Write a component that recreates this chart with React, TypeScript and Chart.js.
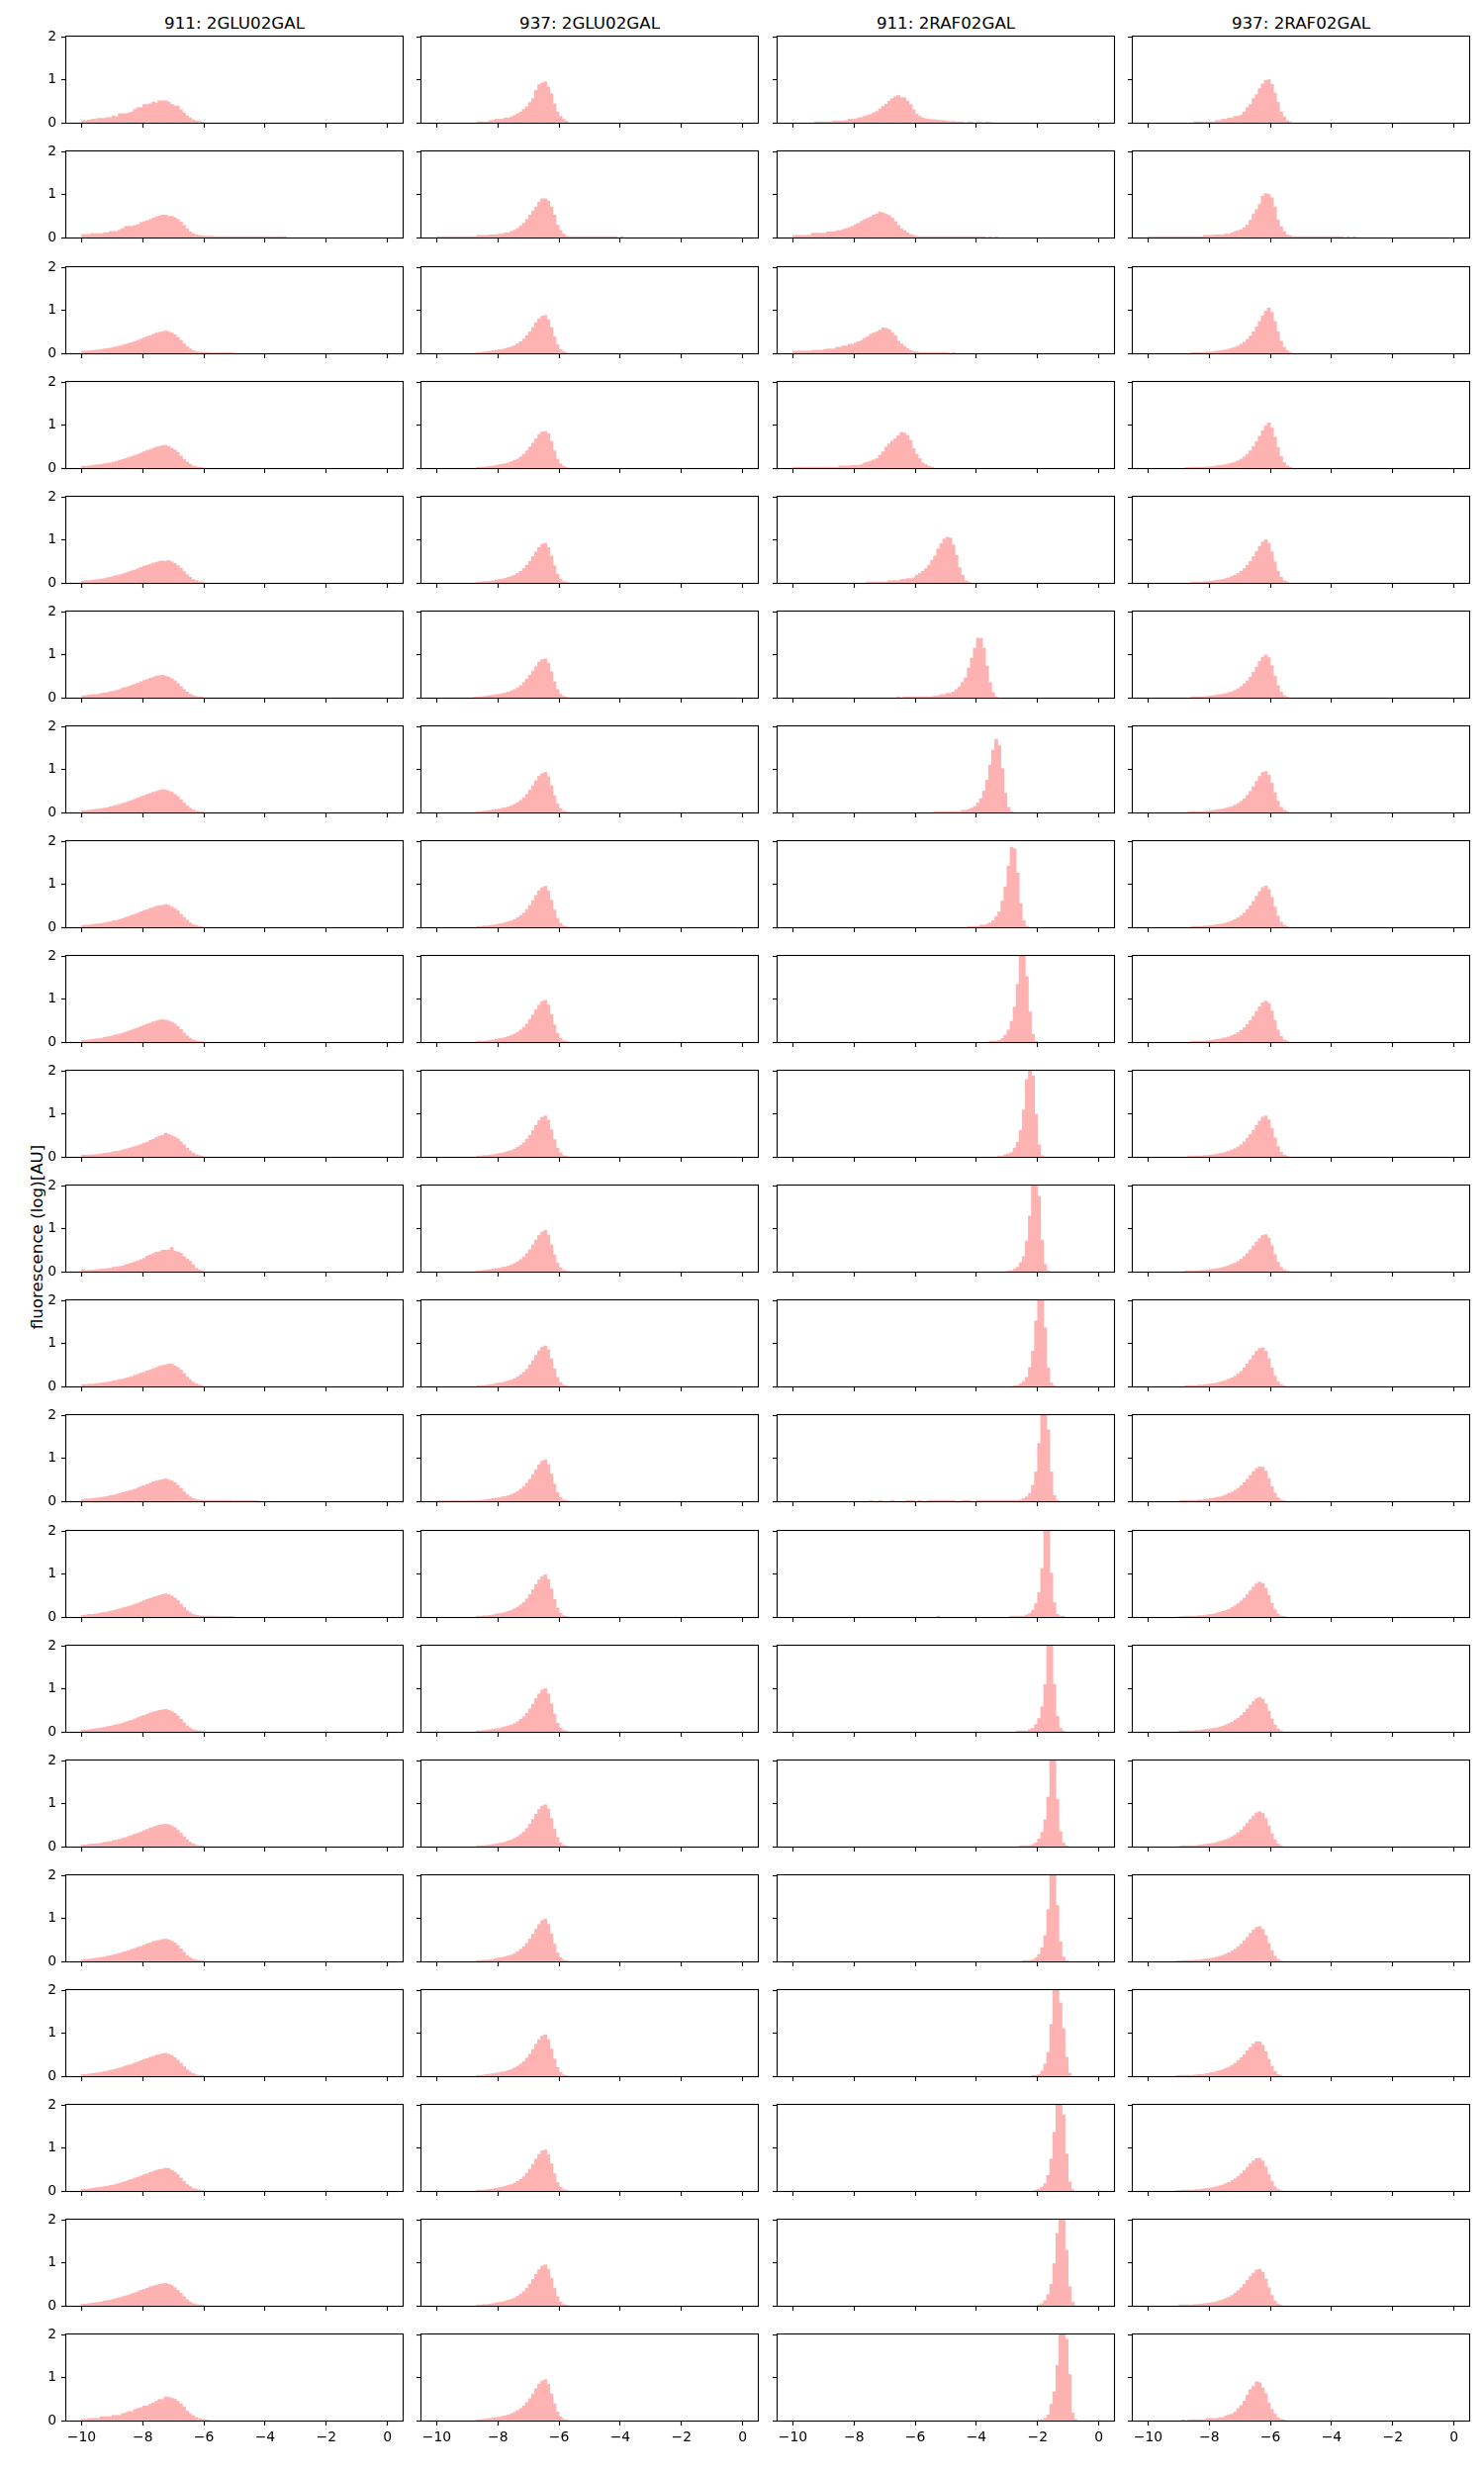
import React, { useEffect, useRef } from 'react';
import { Chart, registerables } from 'chart.js';

Chart.register(...registerables);

// ---------- text ----------
const columnTitles = ['911: 2GLU02GAL', '937: 2GLU02GAL', '911: 2RAF02GAL', '937: 2RAF02GAL'];
const yAxisTitle = 'fluorescence (log)[AU]';
const xTicks = [-10, -8, -6, -4, -2, 0];
const yTicks = [0, 1, 2];
const xRange = [-10.5, 0.5];
const yRange = [0, 2];

// histogram bins: bin k spans [binOrigin + k*binWidth, binOrigin + (k+1)*binWidth]
const binOrigin = -10;
const binWidth = 0.1;

// ---------- 911: 2GLU02GAL ----------
const glu911Start = [0, 0, 0, 0, 0, 0, 0, 0, 0, 0, 0, 0, 0, 0, 0, 0, 0, 0, 0, 0, 0];
const glu911Heights = [
  [.05,.05,.06,.08,.08,.1,.1,.1,.12,.12,.16,.14,.21,.21,.21,.23,.25,.31,.35,.35,.42,.42,.44,.48,.46,.51,.51,.51,.48,.43,.39,.39,.3,.23,.16,.11,.07,.04,.03,.01],
  [.07,.07,.07,.09,.09,.09,.09,.11,.11,.14,.14,.14,.17,.21,.26,.26,.26,.28,.3,.35,.37,.39,.42,.45,.48,.5,.52,.52,.49,.49,.46,.42,.36,.28,.2,.13,.09,.06,.05,.04,.03,.03,.03,.02,.02,.02,.02,.02,.02,.02,.02,.02,.02,.02,.02,.02,.02,.02,.02,.02,.02,.02,.02,.02,.02,.02,.02],
  [.05,.05,.06,.06,.07,.08,.09,.1,.11,.12,.14,.15,.17,.19,.21,.23,.25,.27,.3,.33,.36,.39,.41,.44,.47,.49,.5,.52,.5,.47,.43,.37,.3,.22,.15,.1,.06,.04,.03,.02,.02,.02,.01,.01,.01,.01,.01,.01,.01,.01],
  [.04,.04,.05,.06,.07,.08,.09,.1,.11,.12,.14,.16,.18,.2,.22,.25,.27,.3,.32,.35,.38,.41,.43,.46,.49,.5,.52,.53,.5,.46,.42,.36,.28,.2,.14,.09,.05,.03,.02,.01],
  [.04,.05,.05,.06,.07,.08,.09,.1,.12,.13,.15,.17,.19,.21,.23,.26,.28,.3,.33,.36,.39,.41,.43,.46,.48,.5,.51,.5,.52,.49,.45,.4,.34,.26,.19,.13,.08,.05,.03,.02],
  [.04,.05,.06,.07,.07,.08,.1,.11,.12,.14,.15,.17,.19,.22,.24,.26,.29,.31,.34,.37,.4,.42,.45,.47,.5,.51,.52,.5,.48,.44,.39,.33,.26,.19,.13,.08,.05,.03,.02,.01],
  [.04,.04,.05,.06,.07,.08,.09,.1,.11,.13,.15,.17,.19,.21,.23,.26,.28,.31,.34,.37,.39,.42,.44,.47,.49,.51,.53,.52,.5,.47,.42,.37,.3,.22,.15,.1,.06,.03,.02,.01],
  [.04,.05,.05,.06,.07,.08,.09,.1,.12,.13,.15,.16,.18,.2,.23,.25,.28,.3,.33,.36,.39,.41,.44,.46,.49,.5,.51,.53,.51,.47,.43,.38,.3,.23,.16,.1,.06,.04,.02,.01],
  [.04,.04,.05,.06,.07,.08,.09,.11,.12,.13,.15,.17,.19,.21,.23,.26,.28,.31,.33,.36,.39,.42,.44,.47,.49,.51,.52,.51,.49,.46,.42,.36,.29,.21,.14,.09,.05,.03,.02,.01],
  [.04,.04,.04,.05,.05,.06,.07,.08,.09,.1,.12,.13,.14,.16,.18,.2,.22,.24,.26,.29,.32,.34,.38,.41,.45,.48,.5,.55,.52,.49,.46,.42,.35,.28,.2,.14,.09,.05,.03,.01],
  [.05,.03,.03,.03,.04,.05,.06,.06,.07,.08,.1,.11,.12,.13,.16,.18,.2,.23,.25,.28,.31,.36,.39,.42,.45,.46,.5,.5,.5,.56,.48,.46,.43,.35,.29,.24,.16,.08,.04,.02],
  [.04,.04,.05,.05,.06,.07,.08,.09,.1,.11,.13,.14,.16,.17,.19,.21,.23,.26,.28,.31,.33,.36,.38,.41,.44,.47,.49,.5,.52,.52,.48,.44,.38,.3,.22,.15,.1,.06,.03,.02],
  [.04,.05,.05,.06,.07,.08,.09,.1,.11,.13,.14,.16,.18,.2,.22,.24,.26,.28,.31,.34,.36,.39,.42,.45,.47,.49,.5,.52,.5,.47,.43,.37,.3,.22,.15,.1,.06,.04,.03,.02,.02,.02,.02,.02,.02,.02,.02,.02,.02,.01,.01,.01,.01,.01,.01,.01,.01,.01],
  [.04,.05,.06,.06,.07,.08,.1,.11,.12,.14,.15,.17,.19,.21,.23,.25,.27,.3,.32,.35,.38,.41,.43,.46,.48,.5,.52,.54,.52,.49,.44,.38,.3,.22,.15,.1,.06,.04,.03,.02,.02,.02,.02,.02,.01,.01,.01,.01,.01,.01],
  [.04,.04,.05,.06,.07,.08,.09,.1,.12,.13,.15,.17,.18,.2,.23,.25,.27,.3,.33,.36,.38,.41,.44,.46,.48,.5,.51,.52,.5,.47,.43,.37,.29,.21,.14,.09,.05,.03,.02,.01],
  [.04,.04,.05,.06,.06,.07,.08,.1,.11,.12,.14,.15,.17,.19,.21,.24,.26,.29,.31,.34,.37,.4,.43,.45,.48,.5,.51,.52,.51,.48,.44,.38,.31,.23,.16,.1,.06,.03,.02,.01],
  [.04,.05,.05,.06,.07,.08,.09,.1,.12,.13,.15,.17,.19,.21,.23,.25,.28,.3,.33,.35,.38,.41,.43,.46,.48,.49,.51,.52,.5,.47,.43,.37,.29,.21,.14,.09,.05,.03,.02,.01],
  [.04,.04,.05,.06,.07,.08,.09,.11,.12,.14,.15,.17,.19,.21,.24,.26,.28,.31,.33,.36,.39,.41,.44,.46,.49,.5,.52,.53,.51,.48,.43,.37,.3,.22,.15,.1,.06,.03,.02,.01],
  [.04,.04,.05,.06,.07,.08,.09,.1,.11,.13,.14,.16,.18,.2,.22,.25,.27,.3,.32,.35,.38,.4,.43,.45,.48,.5,.51,.53,.52,.48,.44,.38,.3,.22,.15,.1,.06,.04,.02,.01],
  [.04,.04,.05,.06,.07,.08,.09,.11,.12,.13,.15,.17,.19,.21,.23,.25,.28,.3,.33,.36,.38,.41,.44,.46,.48,.5,.51,.52,.5,.47,.42,.36,.29,.21,.14,.09,.05,.03,.02,.01],
  [.03,.03,.05,.05,.05,.05,.09,.09,.09,.09,.12,.12,.12,.16,.18,.21,.21,.26,.28,.3,.34,.34,.38,.41,.45,.49,.49,.55,.54,.52,.5,.45,.39,.32,.22,.16,.11,.07,.04,.03,.02,.01],
];

// ---------- 937: 2GLU02GAL ----------
const glu937Start = [13, 0, 13, 13, 13, 12, 13, 13, 13, 13, 13, 13, 0, 13, 13, 13, 13, 13, 13, 13, 13];
const glu937Heights = [
  [.02,.02,.02,.02,.05,.05,.08,.08,.08,.11,.11,.14,.17,.21,.25,.31,.37,.47,.56,.75,.88,.92,.95,.83,.67,.44,.25,.15,.08,.03],
  [.02,.02,.02,.02,.02,.02,.02,.02,.02,.02,.02,.02,.02,.05,.05,.05,.05,.06,.06,.06,.08,.08,.11,.11,.14,.17,.21,.27,.33,.42,.52,.62,.71,.82,.9,.9,.85,.71,.52,.29,.16,.08,.03,.02,.02,.02,.02,.02,.02,.02,.02,.02,.02,.02,.02,.02,.02,.02,.02,0,.02],
  [.02,.02,.03,.04,.05,.06,.07,.08,.09,.11,.13,.15,.18,.22,.27,.33,.41,.5,.6,.71,.8,.86,.88,.78,.6,.38,.2,.09,.04,.01],
  [.02,.02,.02,.03,.04,.05,.06,.08,.09,.1,.12,.15,.18,.21,.26,.32,.4,.49,.58,.68,.78,.84,.85,.8,.62,.4,.21,.1,.04,.01],
  [.02,.02,.03,.03,.04,.05,.07,.08,.09,.11,.13,.15,.18,.22,.27,.33,.41,.5,.61,.72,.82,.9,.92,.82,.62,.4,.2,.09,.03,.01],
  [.01,.02,.02,.03,.04,.05,.06,.07,.08,.1,.11,.13,.16,.19,.23,.28,.35,.43,.52,.62,.72,.83,.88,.9,.8,.6,.37,.19,.08,.03,.01],
  [.02,.02,.03,.04,.05,.06,.07,.08,.1,.11,.13,.16,.19,.23,.28,.34,.42,.52,.62,.74,.84,.9,.93,.83,.62,.39,.2,.09,.03,.01],
  [.02,.02,.03,.03,.04,.05,.06,.08,.09,.11,.13,.15,.18,.22,.27,.33,.41,.51,.62,.74,.85,.92,.95,.84,.63,.4,.21,.09,.03,.01],
  [.02,.02,.02,.03,.04,.05,.07,.08,.09,.11,.13,.16,.19,.23,.28,.34,.42,.52,.63,.75,.86,.94,.97,.86,.64,.4,.2,.09,.03,.01],
  [.02,.02,.03,.03,.04,.05,.06,.08,.09,.11,.13,.15,.18,.22,.27,.33,.41,.5,.61,.73,.84,.92,.95,.85,.63,.4,.2,.09,.03,.01],
  [.02,.02,.03,.04,.05,.06,.07,.08,.1,.11,.13,.16,.19,.23,.28,.34,.42,.51,.62,.73,.84,.92,.96,.84,.62,.39,.2,.09,.03,.01],
  [.02,.02,.02,.03,.04,.05,.07,.08,.09,.11,.13,.15,.18,.22,.27,.33,.4,.5,.6,.72,.83,.91,.94,.85,.64,.41,.21,.09,.03,.01],
  [.01,.01,.01,.01,.01,.01,.01,.01,.01,.01,.01,.01,.01,.02,.02,.03,.04,.05,.06,.07,.08,.1,.11,.13,.16,.19,.23,.28,.34,.42,.51,.62,.73,.85,.93,.96,.85,.63,.4,.2,.09,.03,.01],
  [.02,.02,.03,.03,.04,.05,.07,.08,.09,.11,.13,.16,.19,.23,.28,.34,.42,.52,.63,.75,.86,.94,.98,.87,.65,.41,.21,.09,.03,.01],
  [.02,.02,.03,.04,.05,.06,.07,.08,.1,.12,.14,.16,.19,.23,.29,.35,.43,.53,.64,.77,.88,.97,1.0,.88,.65,.41,.2,.09,.03,.01],
  [.02,.02,.02,.03,.04,.05,.06,.08,.09,.11,.13,.16,.19,.23,.28,.34,.42,.52,.63,.75,.86,.94,.97,.87,.65,.41,.21,.09,.03,.01],
  [.02,.02,.03,.03,.04,.05,.07,.08,.09,.11,.13,.15,.18,.22,.28,.34,.42,.52,.63,.75,.86,.95,.98,.86,.64,.4,.2,.09,.03,.01],
  [.02,.02,.03,.04,.05,.06,.07,.08,.1,.11,.13,.16,.19,.23,.28,.34,.42,.51,.62,.74,.85,.93,.96,.85,.63,.4,.2,.09,.03,.01],
  [.02,.02,.02,.03,.04,.05,.06,.08,.09,.11,.13,.15,.18,.22,.27,.33,.41,.51,.62,.74,.85,.93,.95,.84,.63,.4,.2,.09,.03,.01],
  [.02,.02,.03,.03,.04,.05,.07,.08,.09,.11,.13,.15,.18,.22,.27,.33,.41,.5,.61,.73,.84,.92,.95,.85,.64,.41,.21,.09,.03,.01],
  [.02,.02,.03,.04,.05,.06,.07,.08,.1,.11,.13,.16,.19,.23,.28,.34,.42,.51,.62,.74,.85,.92,.95,.84,.62,.39,.2,.09,.03,.01],
];

// ---------- 911: 2RAF02GAL ----------
const raf911Start = [7, 0, 0, 0, 24, 34, 46, 57, 64, 67, 70, 72, 25, 47, 73, 74, 75, 78, 79, 80, 80];
const raf911Heights = [
  [.02,.02,.02,.02,.02,.02,.04,.04,.04,.04,.05,.08,.08,.09,.11,.12,.15,.17,.19,.23,.26,.32,.38,.43,.5,.56,.6,.63,.58,.58,.5,.42,.3,.2,.15,.11,.09,.08,.07,.07,.06,.05,.05,.04,.03,.03,.02,.02,.02,0,.02,.02,0,.02,.02,0,.02,.01],
  [.05,.05,.05,.05,.05,.05,.1,.1,.1,.1,.1,.13,.13,.13,.16,.16,.19,.21,.23,.26,.3,.33,.38,.42,.45,.48,.52,.55,.59,.57,.54,.51,.45,.37,.28,.2,.16,.11,.07,.05,.03,.02,.02,.02,.02,.02,.02,.02,.02,.02,.02,.02,.02,.02,.02,.02,.02,.02,.02,.02,.02,.02,.02,0,.02,0,.02],
  [.05,.05,.05,.05,.05,.05,.07,.07,.07,.07,.09,.1,.1,.1,.14,.14,.17,.17,.21,.21,.24,.27,.3,.35,.39,.44,.47,.5,.54,.59,.58,.55,.48,.41,.28,.22,.16,.11,.06,.04,.04,.02,.02,.02,.02,.02,.02,.02,.02,.02,.02,0,.02],
  [.02,.02,.02,.02,.02,.02,.02,.02,.02,.02,.02,.02,.02,.02,.02,.05,.05,.05,.05,.06,.06,.06,.08,.12,.14,.16,.19,.22,.3,.38,.49,.56,.63,.68,.75,.83,.81,.76,.64,.45,.32,.22,.12,.08,.04,.02],
  [.02,.02,.02,.02,.02,.02,.02,.05,.05,.05,.05,.08,.08,.1,.1,.12,.18,.22,.27,.33,.41,.52,.62,.79,.91,1.02,1.06,1.04,.88,.64,.35,.18,.05,.02],
  [.02,0,.02,.02,.02,.02,.02,.02,.02,.02,.02,.02,.04,.04,.07,.07,.1,.1,.13,.19,.25,.35,.46,.69,.92,1.15,1.38,1.38,1.15,.73,.35,.12,.02],
  [.02,.02,.02,.02,.02,.02,.02,.02,.02,.05,.05,.07,.1,.14,.22,.32,.5,.75,1.1,1.45,1.7,1.55,1.02,.45,.12,.02],
  [.02,.02,.02,.02,.05,.05,.07,.1,.15,.25,.36,.61,.94,1.42,1.86,1.82,1.26,.55,.15,.02],
  [.02,.02,.02,.04,.08,.16,.28,.48,.81,1.34,2.1,2.05,1.52,.7,.18,.02],
  [.02,.02,.05,.07,.1,.2,.34,.62,1.09,1.8,2.15,1.88,.99,.28,.03],
  [.02,.02,.06,.1,.21,.35,.71,1.29,2.2,2.1,1.75,.73,.17,.02],
  [.02,.02,.06,.12,.21,.44,.82,1.52,2.2,2.3,1.36,.43,.08,.01],
  [.02,0,0,.02,0,0,0,.02,0,0,0,0,.02,.02,.02,0,.02,0,0,.02,.02,.02,.02,.02,.02,.02,.02,.02,0,0,.02,.02,.02,0,0,.02,.02,.02,.02,.02,.02,.02,.02,.02,.02,.02,.02,.02,.02,.03,.06,.1,.18,.37,.68,1.34,2.2,2.2,1.66,.68,.13,.02],
  [.02,0,0,0,0,0,0,0,0,0,0,0,0,0,0,0,0,0,0,0,0,0,0,0,.02,.02,.02,.02,.02,.05,.08,.16,.31,.57,1.13,2.1,2.3,1.02,.33,.06,.02,.02],
  [.02,.02,.02,.02,.05,.08,.17,.31,.58,1.1,2.2,2.2,1.1,.36,.08,.02],
  [.02,.02,.02,.02,.05,.09,.18,.33,.62,1.15,2.2,2.1,1.1,.35,.08,.02],
  [.02,.02,.02,.04,.08,.16,.32,.6,1.2,2.1,2.2,1.3,.45,.1,.02],
  [.02,.02,.04,.12,.28,.55,1.2,2.0,2.2,1.7,1.1,.44,.07],
  [.02,.04,.09,.17,.36,.74,1.36,2.2,2.1,1.77,.86,.21,.03],
  [.02,.05,.12,.26,.5,.98,1.68,2.2,2.2,1.29,.44,.08],
  [.02,.02,.05,.13,.38,.67,1.28,2.2,2.2,1.89,1.07,.18,.03],
];

// ---------- 937: 2RAF02GAL ----------
const raf937Start = [15, 0, 14, 12, 14, 14, 13, 14, 14, 13, 12, 12, 10, 10, 10, 10, 9, 9, 9, 10, 11];
const raf937Heights = [
  [.02,.02,.02,.02,.02,.02,.02,.05,.05,.08,.08,.11,.11,.15,.15,.18,.25,.35,.42,.56,.65,.79,.9,.98,1.0,.89,.69,.47,.25,.14,.05,.02],
  [.02,.02,.02,.02,.02,.02,.02,.02,.02,.02,.02,.02,.02,.02,.02,.02,.02,.02,.05,.05,.05,.05,.06,.06,.06,.08,.08,.11,.14,.16,.18,.23,.29,.4,.54,.65,.77,.96,1.02,1.0,.92,.71,.41,.25,.14,.06,.04,.02,.02,.02,.02,.02,.02,.02,.02,.02,.02,.02,.02,.02,.02,.02,.02,.02,0,.02,0,.02],
  [.02,.02,.02,.02,.02,.03,.03,.04,.05,.06,.07,.08,.1,.12,.14,.17,.21,.26,.32,.4,.5,.61,.74,.87,.98,1.05,.95,.74,.5,.28,.14,.06,.02],
  [.01,.01,.02,.02,.02,.02,.02,.03,.03,.04,.05,.06,.07,.08,.1,.12,.14,.17,.21,.26,.32,.4,.5,.61,.74,.87,.98,1.05,.93,.72,.48,.27,.13,.05,.02],
  [.02,.02,.02,.02,.03,.03,.04,.05,.06,.07,.08,.1,.12,.15,.18,.22,.27,.33,.41,.5,.61,.73,.85,.95,1.0,.92,.72,.49,.27,.13,.05,.02],
  [.02,.02,.02,.02,.02,.03,.04,.05,.06,.07,.08,.1,.12,.14,.17,.21,.26,.32,.39,.48,.59,.71,.84,.94,.99,.93,.74,.5,.28,.13,.05,.02],
  [.01,.02,.02,.02,.02,.02,.03,.04,.05,.06,.07,.08,.1,.12,.14,.17,.21,.26,.32,.4,.49,.6,.72,.84,.93,.95,.87,.68,.46,.26,.12,.05,.02],
  [.02,.02,.02,.02,.03,.03,.04,.05,.06,.07,.08,.1,.12,.15,.18,.22,.27,.33,.41,.5,.6,.72,.83,.92,.96,.88,.69,.47,.26,.12,.05,.02],
  [.02,.02,.02,.02,.02,.03,.04,.05,.06,.07,.09,.1,.12,.15,.18,.22,.27,.33,.41,.5,.6,.71,.82,.91,.95,.9,.72,.5,.28,.13,.05,.02],
  [.02,.02,.02,.02,.02,.03,.03,.04,.05,.06,.08,.09,.11,.13,.16,.19,.23,.28,.35,.43,.52,.62,.73,.83,.92,.95,.86,.66,.44,.24,.11,.04,.01],
  [.02,.02,.02,.02,.02,.03,.03,.04,.05,.06,.07,.08,.1,.12,.14,.17,.2,.24,.29,.35,.42,.51,.6,.69,.77,.84,.86,.78,.6,.4,.22,.1,.04,.01],
  [.02,.02,.02,.02,.03,.03,.04,.05,.06,.07,.08,.1,.12,.14,.17,.2,.24,.29,.35,.43,.52,.62,.72,.82,.88,.9,.82,.64,.43,.24,.11,.04,.01],
  [.01,.02,.02,.02,.02,.02,.03,.03,.04,.05,.06,.07,.09,.1,.12,.15,.18,.21,.25,.3,.36,.43,.51,.6,.69,.76,.8,.79,.7,.53,.34,.19,.08,.03,.01],
  [.01,.01,.02,.02,.02,.02,.03,.03,.04,.05,.06,.07,.09,.11,.13,.15,.18,.22,.26,.31,.37,.44,.52,.61,.7,.77,.81,.78,.67,.5,.32,.17,.07,.02,.01],
  [.02,.02,.02,.02,.02,.03,.03,.04,.05,.06,.07,.08,.09,.11,.13,.16,.19,.22,.27,.32,.38,.45,.53,.62,.7,.77,.8,.76,.65,.48,.3,.16,.07,.02],
  [.01,.02,.02,.02,.02,.02,.03,.04,.05,.06,.07,.08,.1,.12,.14,.16,.19,.23,.27,.32,.38,.46,.54,.63,.71,.78,.81,.77,.65,.48,.3,.16,.06,.02],
  [.01,.01,.02,.02,.02,.02,.03,.03,.04,.05,.06,.07,.08,.1,.12,.14,.17,.2,.24,.28,.34,.4,.48,.56,.65,.73,.79,.81,.74,.6,.42,.25,.12,.05,.01],
  [.01,.02,.02,.02,.02,.02,.03,.04,.04,.05,.06,.08,.09,.11,.13,.15,.18,.21,.25,.3,.36,.43,.5,.59,.67,.75,.8,.8,.72,.57,.39,.23,.11,.04,.01],
  [.01,.01,.02,.02,.02,.02,.03,.03,.04,.05,.06,.07,.08,.1,.12,.14,.17,.2,.24,.28,.34,.4,.47,.55,.63,.7,.75,.76,.7,.56,.38,.22,.1,.04,.01],
  [.02,.02,.02,.02,.02,.03,.03,.04,.05,.06,.07,.08,.1,.12,.14,.17,.2,.24,.29,.35,.42,.5,.59,.68,.76,.83,.85,.78,.62,.42,.24,.11,.04,.01],
  [.02,0,.02,.02,.02,.02,.02,.02,.05,.05,.05,.05,.07,.07,.11,.13,.15,.2,.28,.35,.45,.59,.72,.8,.9,.88,.76,.63,.41,.26,.15,.07,.03,.01],
];

const columnStarts = [glu911Start, glu937Start, raf911Start, raf937Start];
const columnHeights = [glu911Heights, glu937Heights, raf911Heights, raf937Heights];

// ---------- layout / style ----------
const FONT = "'DejaVu Sans', 'Liberation Sans', sans-serif";
const BAR_COLOR = '#ffb2b2';
const COL_LEFT = [67, 426, 786, 1145];
const PLOT_W = 340;
const PLOT_H = 87;
const ROW0_TOP = 37.3;
const ROW_PITCH = 116.1;
const N_ROWS = 21;
const PAD_L = 45;
const PAD_R = 8;
const PAD_T = 12;
const PAD_B = 32;

const fmtTick = (v: number) => (v < 0 ? '\u2212' + Math.abs(v) : String(v));

const framePlugin = {
  id: 'axesFrame',
  afterDatasetsDraw(chart: any) {
    const { ctx, chartArea: a } = chart;
    ctx.save();
    ctx.strokeStyle = '#000';
    ctx.lineWidth = 1.1;
    ctx.strokeRect(a.left - 0.5, a.top - 0.5, a.right - a.left + 1, a.bottom - a.top + 1);
    ctx.restore();
  },
};

function Panel({ col, row }: { col: number; row: number }) {
  const ref = useRef<HTMLCanvasElement | null>(null);
  const plotTop = Math.round(ROW0_TOP + row * ROW_PITCH);
  const left = COL_LEFT[col] - PAD_L;
  const top = plotTop - PAD_T;
  const w = PLOT_W + PAD_L + PAD_R;
  const h = PLOT_H + PAD_T + PAD_B;

  useEffect(() => {
    if (!ref.current) return;
    const start = columnStarts[col][row];
    const heights = columnHeights[col][row];
    const points: { x: number; y: number }[] = [];
    heights.forEach((v, i) => {
      if (v > 0) points.push({ x: binOrigin + (start + i + 0.5) * binWidth, y: v });
    });
    const showX = row === N_ROWS - 1;
    const showY = col === 0;
    const tickFont = { family: FONT, size: 13.9 };
    const chart = new Chart(ref.current, {
      type: 'bar',
      data: {
        datasets: [
          {
            data: points as any,
            backgroundColor: BAR_COLOR,
            borderWidth: 0,
            barPercentage: 1,
            categoryPercentage: 1,
          },
        ],
      },
      options: {
        animation: false,
        responsive: false,
        maintainAspectRatio: false,
        events: [],
        layout: { padding: { left: 0, right: PAD_R, top: PAD_T, bottom: 0 } },
        plugins: { legend: { display: false }, tooltip: { enabled: false }, title: { display: false } },
        scales: {
          x: {
            type: 'linear',
            min: xRange[0],
            max: xRange[1],
            offset: false,
            afterBuildTicks: (s: any) => {
              s.ticks = xTicks.map((v) => ({ value: v }));
            },
            afterFit: (s: any) => {
              s.height = PAD_B;
              s.paddingLeft = 0;
              s.paddingRight = 0;
            },
            grid: {
              display: true,
              drawOnChartArea: false,
              drawTicks: true,
              tickLength: 5,
              tickWidth: 1.1,
              tickColor: '#000',
              offset: false,
            },
            border: { display: false },
            ticks: {
              display: showX,
              color: '#000',
              font: tickFont,
              padding: 4,
              maxRotation: 0,
              autoSkip: false,
              callback: (v: any) => fmtTick(Number(v)),
            },
          },
          y: {
            type: 'linear',
            min: yRange[0],
            max: yRange[1],
            afterBuildTicks: (s: any) => {
              s.ticks = yTicks.map((v) => ({ value: v }));
            },
            afterFit: (s: any) => {
              s.width = PAD_L;
              s.paddingTop = 0;
              s.paddingBottom = 0;
            },
            grid: {
              display: true,
              drawOnChartArea: false,
              drawTicks: true,
              tickLength: 5,
              tickWidth: 1.1,
              tickColor: '#000',
            },
            border: { display: false },
            ticks: {
              display: showY,
              color: '#000',
              font: tickFont,
              padding: 5,
              autoSkip: false,
              callback: (v: any) => fmtTick(Number(v)),
            },
          },
        },
      } as any,
      plugins: [framePlugin],
    });
    return () => chart.destroy();
  }, [col, row]);

  return (
    <canvas
      ref={ref}
      width={w}
      height={h}
      style={{ position: 'absolute', left, top, width: w, height: h, display: 'block' }}
    />
  );
}

export default function App() {
  const panels: React.ReactNode[] = [];
  for (let c = 0; c < 4; c++) {
    for (let r = 0; r < N_ROWS; r++) {
      panels.push(<Panel key={`${c}-${r}`} col={c} row={r} />);
    }
  }
  return (
    <div
      style={{
        position: 'absolute',
        left: 0,
        top: 0,
        width: 1500,
        height: 2500,
        background: '#fff',
        overflow: 'hidden',
        fontFamily: FONT,
        color: '#000',
      }}
    >
      {columnTitles.map((t, c) => (
        <div
          key={t}
          style={{
            position: 'absolute',
            left: COL_LEFT[c],
            width: PLOT_W,
            top: 15,
            textAlign: 'center',
            fontSize: 16.7,
            lineHeight: '16.7px',
            whiteSpace: 'nowrap',
          }}
        >
          {t}
        </div>
      ))}
      <div
        style={{
          position: 'absolute',
          left: 37,
          top: 1250,
          transform: 'translate(-50%, -50%) rotate(-90deg)',
          fontSize: 16.7,
          whiteSpace: 'nowrap',
        }}
      >
        {yAxisTitle}
      </div>
      {panels}
    </div>
  );
}
